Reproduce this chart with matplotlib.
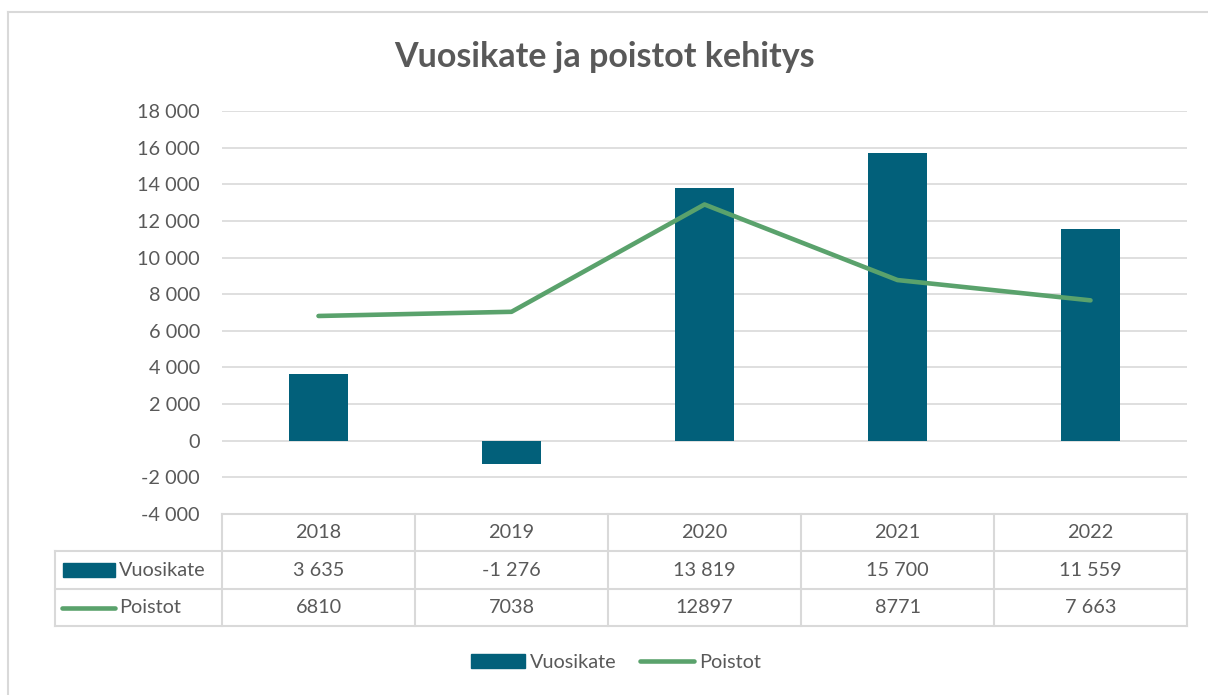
import matplotlib
matplotlib.use("Agg")
import matplotlib.pyplot as plt
import matplotlib.transforms as mtransforms
from matplotlib.lines import Line2D
from matplotlib.patches import Patch

# ---- data ----
years = ["2018", "2019", "2020", "2021", "2022"]
vuosikate = [3635, -1276, 13819, 15700, 11559]
poistot = [6810, 7038, 12897, 8771, 7663]
vuosikate_labels = ["3 635", "-1 276", "13 819", "15 700", "11 559"]
poistot_labels = ["6810", "7038", "12897", "8771", "7 663"]
yticks = [-4000, -2000, 0, 2000, 4000, 6000, 8000, 10000, 12000, 14000, 16000, 18000]
title = "Vuosikate ja poistot kehitys"

W, H = 1208, 695
BAR_C = "#02607A"
LINE_C = "#5AA26C"
TXT_C = "#595959"
GRID_C = "#D9D9D9"

plt.rcParams['font.family'] = ['Lato', 'DejaVu Sans']

fig = plt.figure(figsize=(W / 100, H / 100), dpi=100)
fig.patch.set_facecolor("white")

def fx(px):
    return px / W

def fy(py):
    return 1 - py / H

FS = 14.3

ax_l, ax_r, ax_t, ax_b = 222, 1187, 111, 514
ax = fig.add_axes([fx(ax_l), fy(ax_b), fx(ax_r - ax_l), (ax_b - ax_t) / H])
x = list(range(len(years)))
ax.bar(x, vuosikate, width=0.31, color=BAR_C, zorder=2)
ax.plot(x, poistot, color=LINE_C, lw=3.3, solid_capstyle="round", zorder=3)
ax.set_xlim(-0.5, len(years) - 0.5)
ax.set_ylim(-4000, 18000)
ax.set_yticks(yticks)
ax.set_yticklabels([f"{v:,}".replace(",", " ") for v in yticks])
ax.tick_params(axis="y", length=0, pad=16, labelsize=FS, labelcolor=TXT_C)
ax.set_xticks([])
for s in ax.spines.values():
    s.set_visible(False)
ax.grid(axis="y", color=GRID_C, lw=1.2, zorder=0)
ax.set_axisbelow(True)

# ---- title ----
fig.text(0.5, fy(57), title, ha="center", va="center", fontsize=24.5,
         fontweight="bold", color=TXT_C)

# ---- outer chart border ----
fig.add_artist(Line2D([fx(8), fx(8)], [fy(12), 0], color=GRID_C, lw=1.5))
fig.add_artist(Line2D([fx(8), 1], [fy(12), fy(12)], color=GRID_C, lw=1.5))

# ---- data table ----
bt = mtransforms.blended_transform_factory(ax.transData, fig.transFigure)
rows_y = [514, 551, 589, 626]
left_px = 55
tbl_lw = 1.5
for i, ry in enumerate(rows_y):
    x0 = fx(ax_l) if i == 0 else fx(left_px)
    fig.add_artist(Line2D([x0, fx(ax_r)], [fy(ry), fy(ry)], color=GRID_C, lw=tbl_lw))
for k in range(len(years) + 1):
    ax.add_artist(Line2D([k - 0.5, k - 0.5], [fy(rows_y[0]), fy(rows_y[-1])],
                         color=GRID_C, lw=tbl_lw, transform=bt, clip_on=False))
fig.add_artist(Line2D([fx(left_px), fx(left_px)], [fy(rows_y[1]), fy(rows_y[-1])],
                      color=GRID_C, lw=tbl_lw))

ymid = [(rows_y[j] + rows_y[j + 1]) / 2 for j in range(3)]
for k, yr in enumerate(years):
    ax.text(k, fy(ymid[0]), yr, transform=bt, ha="center", va="center",
            fontsize=FS, color=TXT_C, clip_on=False)
    ax.text(k, fy(ymid[1]), vuosikate_labels[k], transform=bt, ha="center", va="center",
            fontsize=FS, color=TXT_C, clip_on=False)
    ax.text(k, fy(ymid[2]), poistot_labels[k], transform=bt, ha="center", va="center",
            fontsize=FS, color=TXT_C, clip_on=False)

# row header keys
r1, r2 = ymid[1], ymid[2]
fig.add_artist(plt.Rectangle((fx(63), fy(r1 + 7)), fx(52), 14 / H, color=BAR_C))
fig.add_artist(Line2D([fx(62), fx(115)], [fy(r2), fy(r2)], color=LINE_C, lw=3.3,
                      solid_capstyle="round"))
fig.text(fx(119), fy(r1), "Vuosikate", ha="left", va="center", fontsize=FS, color=TXT_C)
fig.text(fx(119), fy(r2), "Poistot", ha="left", va="center", fontsize=FS, color=TXT_C)

# ---- legend ----
handles = [Patch(facecolor=BAR_C, edgecolor=BAR_C),
           Line2D([0], [0], color=LINE_C, lw=3.3, solid_capstyle="round")]
fig.legend(handles, ["Vuosikate", "Poistot"], loc="center", bbox_to_anchor=(fx(616), fy(662)),
           ncol=2, frameon=False, fontsize=FS, labelcolor=TXT_C,
           handlelength=2.7, handleheight=0.7, handletextpad=0.25, columnspacing=1.2)

fig.savefig("out.png", dpi=100)
